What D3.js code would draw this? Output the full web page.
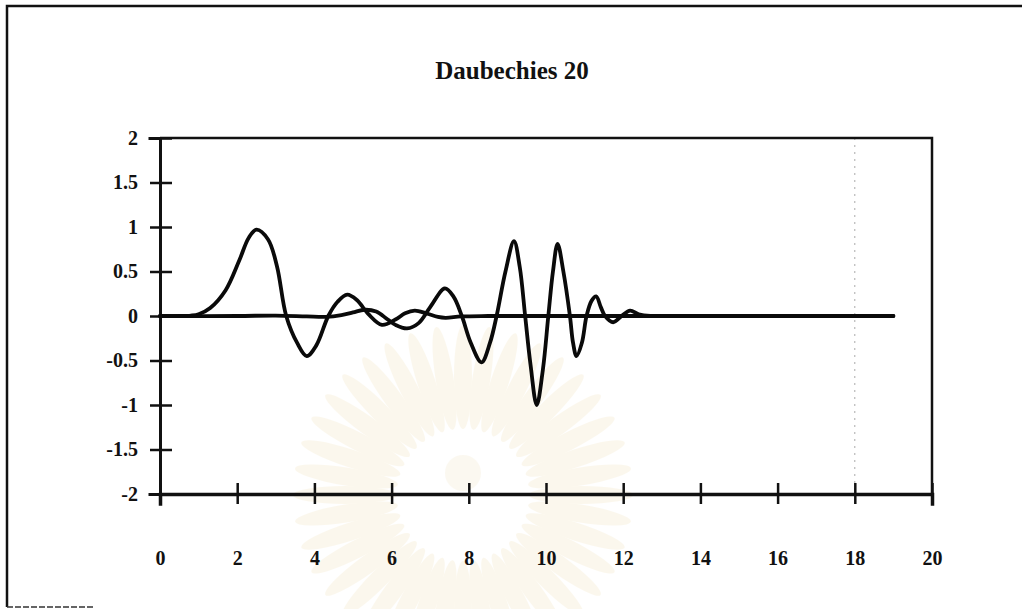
<!DOCTYPE html>
<html>
<head>
<meta charset="utf-8">
<script src="https://cdn.jsdelivr.net/npm/d3@7"></script>
<style>
  html, body { margin: 0; padding: 0; background: #fff; }
  svg { display: block; }
  text { font-family: "Liberation Serif", "Times New Roman", serif; font-weight: bold; fill: #111; }
</style>
</head>
<body>
<svg id="chart" width="1022" height="609"></svg>
<script>
// Daubechies 20 (support 0..19): scaling function and wavelet samples
const phiX = [0, 0.5, 0.8, 1.0, 1.3, 1.7, 2.05, 2.3, 2.5, 2.8, 3.03, 3.27, 3.55, 3.8, 4.05, 4.36, 4.6, 4.85, 5.1, 5.4, 5.75, 6.1, 6.35, 6.6, 6.9, 7.2, 7.4, 7.8, 8.5, 10, 13, 16, 19];
const phiY = [0, 0, 0.005, 0.02, 0.09, 0.29, 0.62, 0.88, 0.97, 0.86, 0.56, 0, -0.3, -0.45, -0.33, 0, 0.16, 0.24, 0.18, 0.02, -0.1, -0.04, 0.03, 0.06, 0.03, -0.01, -0.02, -0.005, 0, 0, 0, 0, 0];

const psiX = [0, 2, 3, 3.8, 4.3, 4.7, 5.0, 5.3, 5.6, 5.9, 6.1, 6.4, 6.7, 7.0, 7.38, 7.6, 7.82, 8.05, 8.33, 8.55, 8.72, 8.95, 9.17, 9.32, 9.46, 9.6, 9.76, 9.92, 10.06, 10.18, 10.3, 10.45, 10.62, 10.7, 10.79, 10.93, 11.05, 11.18, 11.3, 11.42, 11.53, 11.74, 11.96, 12.18, 12.4, 12.7, 13, 16, 19];
const psiY = [0, 0, 0.005, -0.005, -0.01, 0.01, 0.04, 0.07, 0.05, -0.04, -0.1, -0.14, -0.08, 0.1, 0.31, 0.22, 0, -0.3, -0.52, -0.3, 0, 0.5, 0.84, 0.55, 0, -0.55, -1.0, -0.6, 0, 0.5, 0.81, 0.5, 0, -0.3, -0.45, -0.3, 0, 0.17, 0.22, 0.1, 0, -0.07, 0, 0.06, 0.02, 0, 0, 0, 0];

const xTicks = [0, 2, 4, 6, 8, 10, 12, 14, 16, 18, 20];
const yTicks = [-2, -1.5, -1, -0.5, 0, 0.5, 1, 1.5, 2];
const chartTitle = "Daubechies 20";

const svg = d3.select("#chart");

// faint emblem rays in the background
const emblem = svg.append("g").attr("transform", "translate(463,495)").attr("opacity", 0.2);
d3.range(0, 360, 9).forEach(a => {
  emblem.append("ellipse")
    .attr("cx", 0).attr("cy", -118).attr("rx", 9).attr("ry", 52)
    .attr("transform", `rotate(${a})`)
    .attr("fill", "#f0dca8");
});
emblem.append("circle").attr("r", 62).attr("fill", "#ffffff");
emblem.append("circle").attr("r", 18).attr("cy", -22).attr("fill", "#f0e0b8");

// page frame
svg.append("path")
  .attr("d", "M7,607 L7,6 L1022,6")
  .attr("fill", "none").attr("stroke", "#111").attr("stroke-width", 2.5);
svg.append("line")
  .attr("x1", 7).attr("x2", 95).attr("y1", 607).attr("y2", 607)
  .attr("stroke", "#333").attr("stroke-width", 1.5).attr("stroke-dasharray", "6,2");

const x = d3.scaleLinear().domain([0, 20]).range([160, 932]);
const y = d3.scaleLinear().domain([-2, 2]).range([494, 138]);

// title
svg.append("text")
  .attr("x", 512).attr("y", 79)
  .attr("text-anchor", "middle")
  .style("font-size", "25px")
  .text(chartTitle);

// faint dotted vertical rule at x = 18
svg.append("line")
  .attr("x1", x(18)).attr("x2", x(18))
  .attr("y1", y(2)).attr("y2", y(-2))
  .attr("stroke", "#aaa").attr("stroke-width", 1).attr("stroke-dasharray", "2,5");

// plot frame (top and right)
svg.append("path")
  .attr("d", `M${x(0)},${y(2)} L${x(20)},${y(2)} L${x(20)},${y(-2)}`)
  .attr("fill", "none").attr("stroke", "#111").attr("stroke-width", 2.5);

// y axis
const yAxis = svg.append("g")
  .attr("transform", `translate(${x(0)},0)`)
  .call(d3.axisLeft(y).tickValues(yTicks).tickSize(10).tickPadding(12)
    .tickFormat(d => String(d)));
yAxis.select(".domain").attr("stroke", "#111").attr("stroke-width", 3);
yAxis.selectAll(".tick line").attr("x1", 12).attr("x2", -10)
  .attr("stroke", "#111").attr("stroke-width", 2.5);
yAxis.selectAll(".tick text").style("font-size", "20px")
  .attr("font-family", null).attr("fill", "#111");

// x axis
const xAxis = svg.append("g")
  .attr("transform", `translate(0,${y(-2)})`)
  .call(d3.axisBottom(x).tickValues(xTicks).tickSize(10).tickPadding(47)
    .tickFormat(d => String(d)));
xAxis.select(".domain").attr("stroke", "#111").attr("stroke-width", 3.5);
xAxis.selectAll(".tick line").attr("y1", -11).attr("y2", 10)
  .attr("stroke", "#111").attr("stroke-width", 2.5);
xAxis.selectAll(".tick text").style("font-size", "20px")
  .attr("font-family", null).attr("fill", "#111");
svg.selectAll(".domain").attr("stroke-linecap", "square");

// curves
const line = d3.line()
  .x(d => x(d[0]))
  .y(d => y(d[1]))
  .curve(d3.curveCatmullRom.alpha(0.5));

const phi = phiX.map((v, i) => [v, phiY[i]]);
const psi = psiX.map((v, i) => [v, psiY[i]]);

[phi, psi].forEach(series => {
  svg.append("path")
    .datum(series)
    .attr("d", line)
    .attr("fill", "none")
    .attr("stroke", "#0a0a0a")
    .attr("stroke-width", 3.8)
    .attr("stroke-linejoin", "round")
    .attr("stroke-linecap", "round");
});
</script>
</body>
</html>
